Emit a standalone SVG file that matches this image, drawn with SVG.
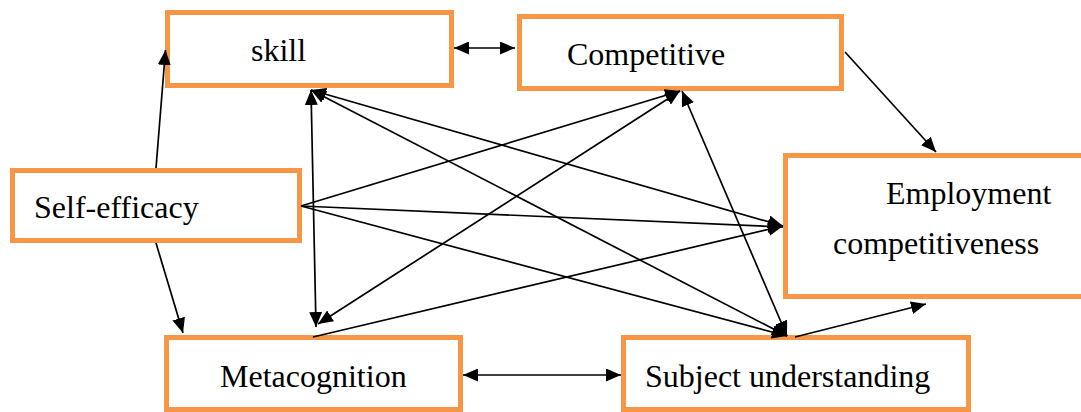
<svg xmlns="http://www.w3.org/2000/svg" width="1081" height="412" viewBox="0 0 1081 412">
<style>
.box{fill:#fff;stroke:#F79646;stroke-width:5}
.lbl{font-family:"Liberation Serif","Times New Roman",serif;font-size:32px;fill:#000}
.c{fill:none;stroke:#000;stroke-width:1.7}
</style>
<defs>
<marker id="ah" markerUnits="userSpaceOnUse" markerWidth="15" markerHeight="13" refX="15" refY="6.5" orient="auto-start-reverse" viewBox="0 0 15 13">
<path d="M0,0 L15,6.5 L0,13 z" fill="#000"/>
</marker>
</defs>
<rect width="1081" height="412" fill="#fff"/>
<g id="node-skill"><rect class="box" x="167.5" y="12.5" width="284" height="73"/><text class="lbl" x="251" y="61">skill</text></g>
<g id="node-competitive"><rect class="box" x="519.5" y="16.5" width="322" height="72"/><text class="lbl" x="567" y="65">Competitive</text></g>
<g id="node-selfefficacy"><rect class="box" x="12.5" y="170.5" width="287" height="70"/><text class="lbl" x="34" y="218">Self-efficacy</text></g>
<g id="node-employment"><rect class="box" x="785.5" y="155.5" width="310" height="141"/><text class="lbl" x="886" y="204">Employment</text><text class="lbl" x="833" y="254">competitiveness</text></g>
<g id="node-metacognition"><rect class="box" x="166.5" y="337.5" width="294" height="72"/><text class="lbl" x="220" y="387">Metacognition</text></g>
<g id="node-subject"><rect class="box" x="623.5" y="337.5" width="345" height="72"/><text class="lbl" x="645" y="387">Subject understanding</text></g>
<g id="connectors">
<line class="c" x1="156" y1="168" x2="165.5" y2="50" marker-end="url(#ah)"/>
<line class="c" x1="156" y1="243" x2="183" y2="333" marker-end="url(#ah)"/>
<line class="c" x1="454" y1="48" x2="515" y2="48" marker-start="url(#ah)" marker-end="url(#ah)"/>
<line class="c" x1="845" y1="52" x2="936" y2="152" marker-end="url(#ah)"/>
<line class="c" x1="301" y1="206" x2="680" y2="91" marker-end="url(#ah)"/>
<line class="c" x1="301" y1="206" x2="783" y2="227" marker-end="url(#ah)"/>
<line class="c" x1="301" y1="206" x2="787" y2="336" marker-end="url(#ah)"/>
<line class="c" x1="311" y1="90" x2="316" y2="327" marker-start="url(#ah)" marker-end="url(#ah)"/>
<line class="c" x1="311" y1="90" x2="783" y2="226" marker-start="url(#ah)" marker-end="url(#ah)"/>
<line class="c" x1="311" y1="90" x2="787" y2="336" marker-start="url(#ah)" marker-end="url(#ah)"/>
<line class="c" x1="680" y1="91" x2="318" y2="324" marker-start="url(#ah)" marker-end="url(#ah)"/>
<line class="c" x1="682" y1="91" x2="787" y2="336" marker-start="url(#ah)" marker-end="url(#ah)"/>
<line class="c" x1="313" y1="337" x2="783" y2="226" marker-end="url(#ah)"/>
<line class="c" x1="463" y1="375" x2="621" y2="375" marker-start="url(#ah)" marker-end="url(#ah)"/>
<line class="c" x1="795" y1="337" x2="926" y2="304" marker-end="url(#ah)"/>
</g>
</svg>
